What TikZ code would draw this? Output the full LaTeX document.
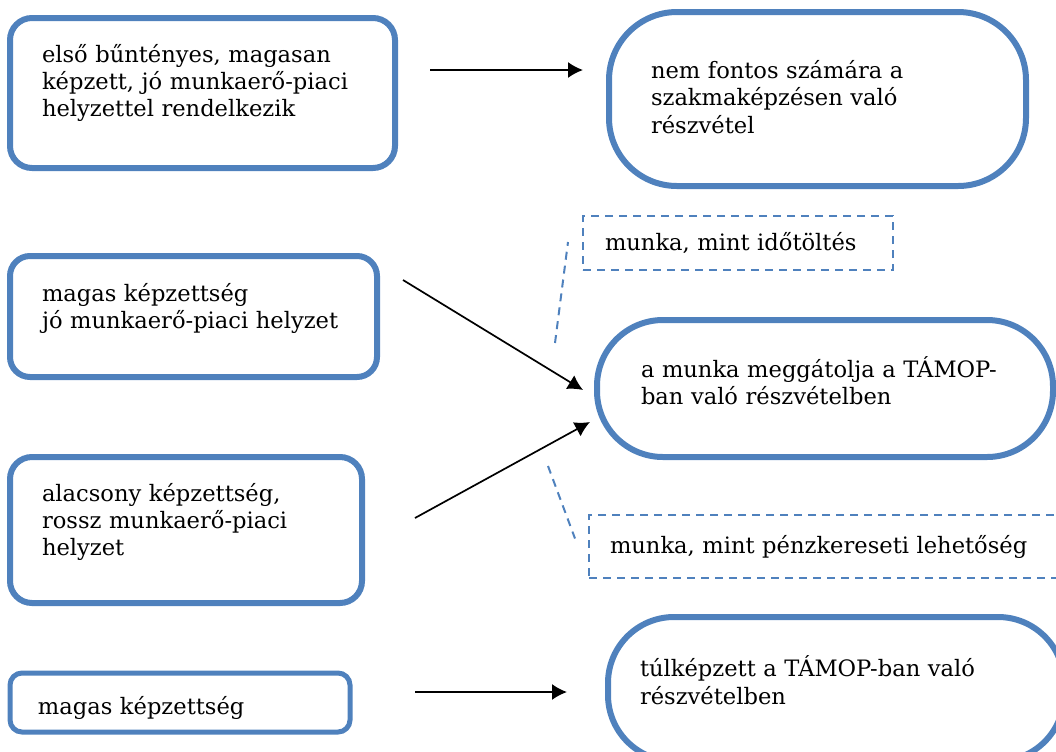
\documentclass[tikz,border=0pt]{standalone}
\usepackage{fontspec}
\setmainfont{DejaVu Serif}
\usepackage{tikz}
\usetikzlibrary{shapes,arrows,arrows.meta,positioning}
\definecolor{boxblue}{RGB}{79,129,189}
\begin{document}
\begin{tikzpicture}[x=0.5pt, y=-0.5pt, box/.style = {rectangle, draw=boxblue, line width=3pt, rounded corners=11pt, align=left, inner sep=0pt, outer sep=0pt, font=\fontsize{11.3pt}{13.7pt}\selectfont}, pill/.style = {box, rounded corners=33pt}, callout/.style = {box, line width=1pt, rounded corners=0pt, dash pattern=on 4pt off 3pt}, leader/.style = {draw=boxblue, line width=1pt, dash pattern=on 4pt off 3pt}, line/.style = {draw, line width=0.85pt, -{Latex[length=7.5pt,width=8pt]}}]
			\useasboundingbox (0,0) rectangle (1056,751);
			\node[box, minimum width=192.5pt, minimum height=75pt, text width=160.5pt, text depth=40pt] (offender) at (202.5,93) {első bűntényes, magasan\\képzett, jó munkaerő-piaci\\helyzettel rendelkezik};
			\node[pill, minimum width=208.5pt, minimum height=87pt, text width=166.5pt, text depth=29.5pt, rounded corners=34pt] (noneed) at (817.5,99) {nem fontos számára a\\szakmaképzésen való\\részvétel};
			\node[box, minimum width=183.5pt, minimum height=60.5pt, text width=151.5pt, text depth=24.5pt, rounded corners=10pt] (highskill) at (193.5,316.5) {magas képzettség\\jó munkaerő-piaci helyzet};
			\node[pill, minimum width=228pt, minimum height=68.5pt, text width=184pt, text depth=21.5pt] (hinders) at (825,388.5) {a munka meggátolja a TÁMOP-\\ban való részvételben};
			\node[box, minimum width=176pt, minimum height=73pt, text width=144pt, text depth=38pt] (lowskill) at (186,530) {alacsony képzettség,\\rossz munkaerő-piaci\\helyzet};
			\node[box, minimum width=170pt, minimum height=29.5pt, text width=142pt, text height=14.5pt, rounded corners=6pt, line width=2.5pt] (skilled) at (180,702.5) {magas képzettség};
			\node[pill, minimum width=228pt, minimum height=72pt, text width=196pt, text depth=22.5pt] (overskilled) at (836,689) {túlképzett a TÁMOP-ban való\\részvételben};
			\node[callout, minimum width=155pt, minimum height=27pt, text width=133pt] (pastime) at (738,243) {munka, mint időtöltés};
			\node[callout, minimum width=240.5pt, minimum height=31.5pt, text width=219.5pt] (money) at (829.5,546.5) {munka, mint pénzkereseti lehetőség};
			\coordinate (pastimetip) at (555,343);
			\coordinate (moneytip) at (548,466);
			
			\path[leader] (pastimetip) -- ([shift={(-15,-1)}]pastime.west);
			\path[leader] (moneytip) -- ([shift={(-14,-8)}]money.west);
			\path[line] ([shift={(35,-23)}]offender.east) -- ([shift={(-26,-29)}]noneed.west);
			\path[line] ([shift={(26,-36.5)}]highskill.east) -- ([shift={(-14,1.5)}]hinders.west);
			\path[line] ([shift={(53,-12)}]lowskill.east) -- ([shift={(-7,33.5)}]hinders.west);
			\path[line] ([shift={(65,-10.5)}]skilled.east) -- ([shift={(-41,3)}]overskilled.west);
			\end{tikzpicture}
\end{document}
